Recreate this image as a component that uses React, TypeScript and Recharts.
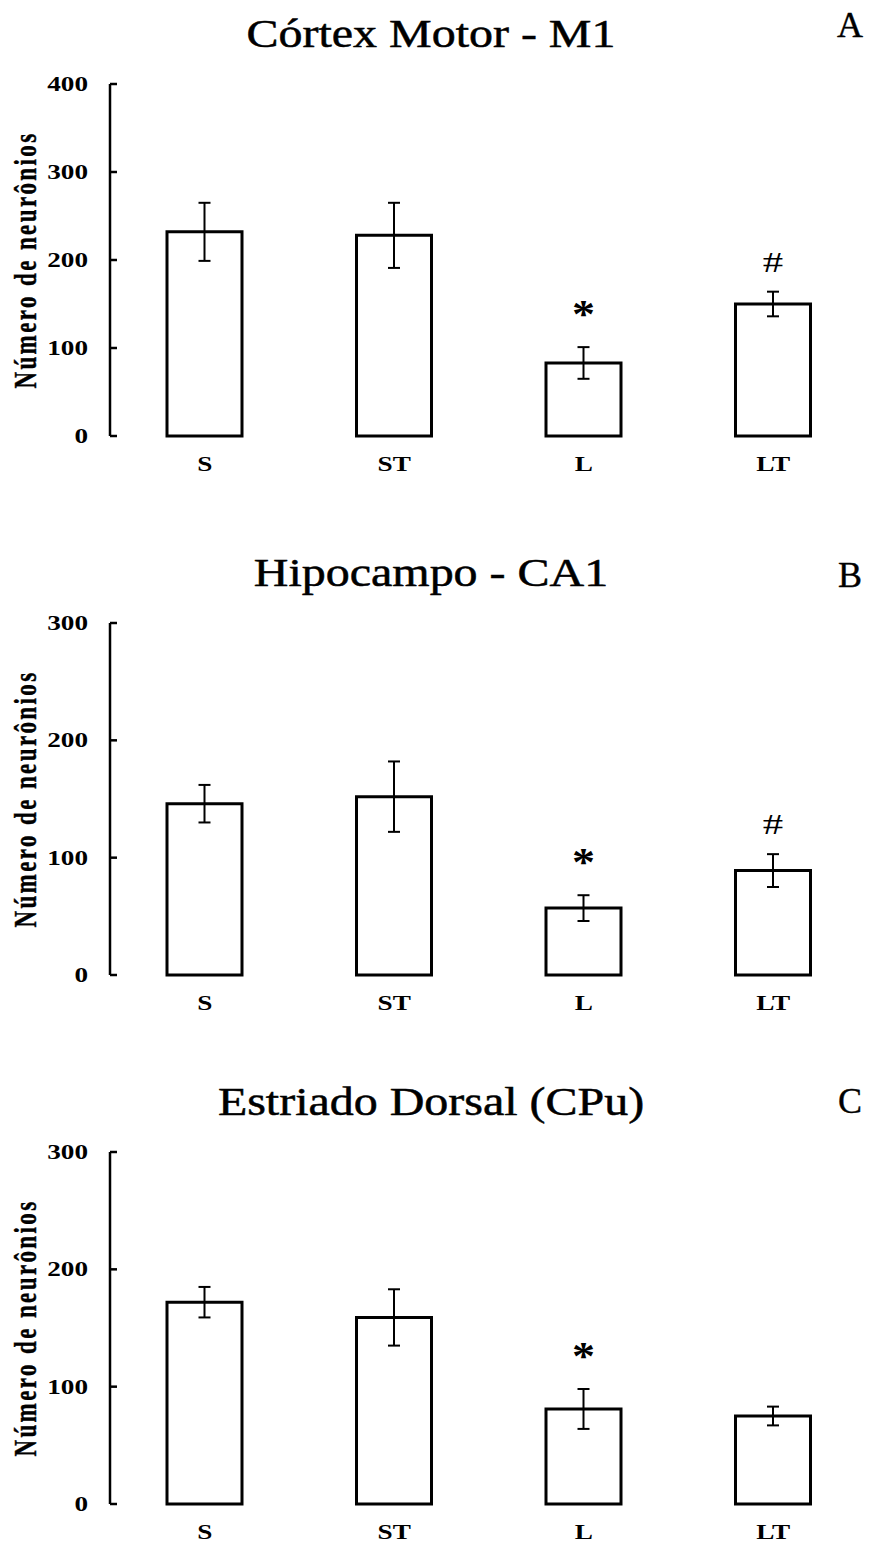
import { BarChart, Bar, XAxis, YAxis, ErrorBar, LabelList } from "recharts";

const groups = ["S", "ST", "L", "LT"];

// Córtex Motor - M1
const m1Mean = [232, 228, 83, 150];
const m1Sem = [33, 37, 18, 14];
const m1Sig = ["", "", "*", "#"];
const m1Ticks = [0, 100, 200, 300, 400];

// Hipocampo - CA1
const ca1Mean = [146, 152, 57, 89];
const ca1Sem = [16, 30, 11, 14];
const ca1Sig = ["", "", "*", "#"];

// Estriado Dorsal (CPu)
const cpuMean = [172, 159, 81, 75];
const cpuSem = [13, 24, 17, 8];
const cpuSig = ["", "", "*", ""];

const ticks300 = [0, 100, 200, 300];

const SERIF = '"Liberation Serif", "Times New Roman", serif';
// the axis lettering in this figure is wide; stretch it horizontally
const K = 1.36;
const K_TITLE = 1.23;

type Row = { group: string; mean: number; sem: number; sig: string };

const buildRows = (mean: number[], sem: number[], sig: string[]): Row[] =>
  groups.map((g, i) => ({ group: g, mean: mean[i], sem: sem[i], sig: sig[i] }));

function YTick(props: any) {
  const { x, y, payload } = props;
  return (
    <g>
      <line x1={x} x2={x + 7} y1={y} y2={y} stroke="#000" strokeWidth={2.5} />
      <text
        transform={`translate(${x - 22},${y + 7}) scale(${K},1)`}
        textAnchor="end"
        fontFamily={SERIF}
        fontWeight="bold"
        fontSize={20}
        fill="#000"
      >
        {payload.value}
      </text>
    </g>
  );
}

function XTick(props: any) {
  const { x, y, payload } = props;
  return (
    <text
      transform={`translate(${x},${y + 35}) scale(${K},1)`}
      textAnchor="middle"
      fontFamily={SERIF}
      fontWeight="bold"
      fontSize={20}
      fill="#000"
    >
      {payload.value}
    </text>
  );
}

function YTitle(props: any) {
  const vb = props.viewBox ?? {};
  const cx = vb.x + vb.width - 84;
  const cy = vb.y + vb.height / 2;
  return (
    <text
      transform={`translate(${cx},${cy}) scale(${K},1) rotate(-90)`}
      textAnchor="middle"
      dominantBaseline="central"
      fontFamily={SERIF}
      fontWeight="bold"
      fontSize={23}
      letterSpacing={2.4}
      fill="#000"
      stroke="#000"
      strokeWidth={0.3}
    >
      Número de neurônios
    </text>
  );
}

// significance mark sitting above the error bar cap
const sigMark = (rows: Row[]) => (props: any) => {
  const { x, y, width, height, index, value } = props;
  if (!value) return null;
  const row = rows[index];
  const pxPerUnit = height / row.mean;
  const capY = y - row.sem * pxPerUnit;
  const star = value === "*";
  return (
    <text
      key={`sig-${index}`}
      transform={`translate(${x + width / 2},${capY - 20}) scale(${star ? 1.15 : K},1)`}
      textAnchor="middle"
      fontFamily={SERIF}
      fontWeight={star ? "bold" : "normal"}
      fontSize={star ? 40 : 30}
      fill="#000"
    >
      {value}
    </text>
  );
};

interface PanelProps {
  top: number;
  title: string;
  letter: string;
  letterY: number;
  rows: Row[];
  yMax: number;
  ticks: number[];
}

function Panel({ top, title, letter, letterY, rows, yMax, ticks }: PanelProps) {
  return (
    <div style={{ position: "absolute", left: 0, top, width: 872, height: 476 }}>
      <BarChart width={872} height={476} data={rows} margin={{ top: 84, right: 4, bottom: 0, left: 0 }}>
        <XAxis
          dataKey="group"
          axisLine={false}
          tickLine={false}
          tickSize={0}
          tickMargin={0}
          height={40}
          interval={0}
          tick={<XTick />}
        />
        <YAxis
          type="number"
          domain={[0, yMax]}
          ticks={ticks}
          width={110}
          tickLine={false}
          tickSize={0}
          tickMargin={0}
          axisLine={{ stroke: "#000", strokeWidth: 2.5 }}
          tick={<YTick />}
          label={<YTitle />}
        />
        <Bar dataKey="mean" fill="#fff" stroke="#000" strokeWidth={3} barSize={75} isAnimationActive={false}>
          <ErrorBar dataKey="sem" direction="y" width={6} stroke="#000" strokeWidth={2} isAnimationActive={false} />
          <LabelList dataKey="sig" content={sigMark(rows)} />
        </Bar>
      </BarChart>
      <svg width={872} height={70} style={{ position: "absolute", left: 0, top: 0, pointerEvents: "none" }}>
        <text
          transform={`translate(431,47) scale(${K_TITLE},1)`}
          textAnchor="middle"
          fontFamily={SERIF}
          fontSize={39}
          fill="#000"
          stroke="#000"
          strokeWidth={0.5}
        >
          {title}
        </text>
        <text
          transform={`translate(850,${letterY})`}
          textAnchor="middle"
          fontFamily={SERIF}
          fontSize={36}
          fill="#000"
          stroke="#000"
          strokeWidth={0.4}
        >
          {letter}
        </text>
      </svg>
    </div>
  );
}

export default function App() {
  return (
    <div style={{ position: "absolute", left: 0, top: 0, width: 872, height: 1544, background: "#fff" }}>
      <Panel
        top={0}
        title="Córtex Motor - M1"
        letter="A"
        letterY={37}
        rows={buildRows(m1Mean, m1Sem, m1Sig)}
        yMax={400}
        ticks={m1Ticks}
      />
      <Panel
        top={539}
        title="Hipocampo - CA1"
        letter="B"
        letterY={48}
        rows={buildRows(ca1Mean, ca1Sem, ca1Sig)}
        yMax={300}
        ticks={ticks300}
      />
      <Panel
        top={1068}
        title="Estriado Dorsal (CPu)"
        letter="C"
        letterY={45}
        rows={buildRows(cpuMean, cpuSem, cpuSig)}
        yMax={300}
        ticks={ticks300}
      />
    </div>
  );
}
